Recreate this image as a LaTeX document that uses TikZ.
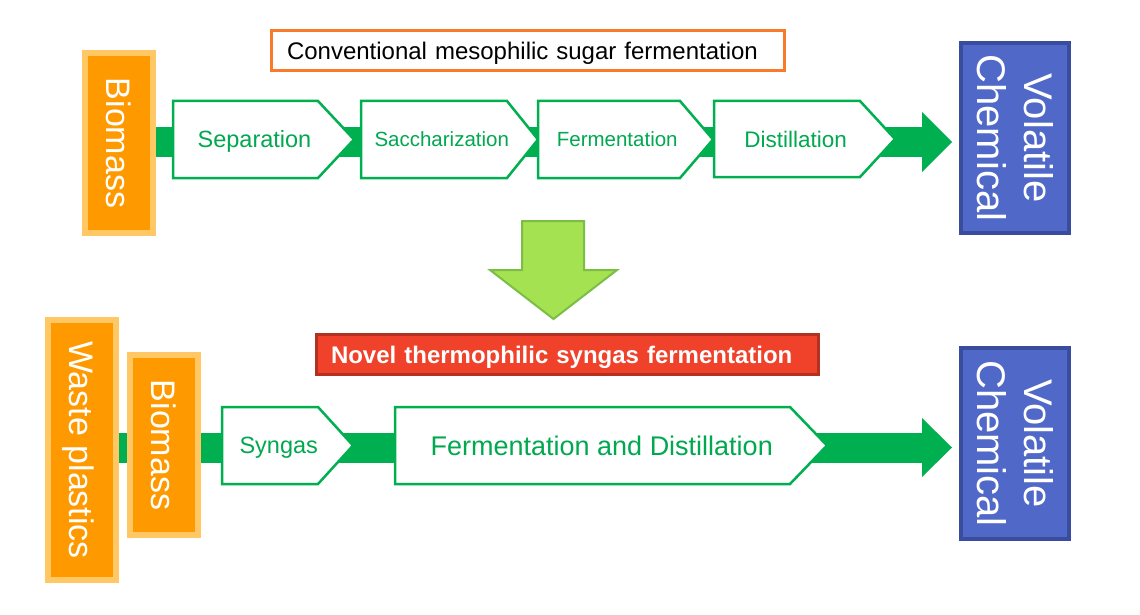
\documentclass[tikz,border=0pt]{standalone}
\usepackage{fontspec}
\setmainfont{Liberation Sans}
\usetikzlibrary{backgrounds}
\definecolor{orfill}{HTML}{FF9900}
\definecolor{orlight}{HTML}{FFC864}
\definecolor{grn}{HTML}{00B050}
\definecolor{grntext}{HTML}{00A850}
\definecolor{bluefill}{HTML}{5068C8}
\definecolor{blueedge}{HTML}{3A4C9E}
\definecolor{redfill}{HTML}{F0412A}
\definecolor{rededge}{HTML}{B5301F}
\definecolor{titleedge}{HTML}{F97B2A}
\definecolor{arrfill}{HTML}{A5E251}
\definecolor{arredge}{HTML}{7BBE45}
\newcommand\pentbox[8]{%
  \filldraw[pent] (#2,#5) -- (#3,#5) -- (#4,{(#5+#6)/2}) -- (#3,#6) -- (#2,#6) -- cycle;
  \node[ptext, font=\fontsize{#7}{#7}\selectfont] (#1) at ({(2*#2+#3+#4)/4},{(#5+#6)/2+0.358*#7}) {#8};}
\begin{document}
\begin{tikzpicture}[x=1pt,y=-1pt,
  orbox/.style={draw=orlight, fill=orfill, line width=6pt, text=white, inner sep=0pt,
    rotate=-90, font=\fontsize{34}{40}\selectfont, text height=24.5pt, text depth=0pt,
    minimum height=68pt},
  bluebox/.style={draw=blueedge, fill=bluefill, line width=4pt, text=white, inner sep=0pt,
    rotate=-90, align=center, font=\fontsize{40}{47}\selectfont,
    minimum height=108pt},
  band/.style={draw=grn, line width=30pt},
  head/.style={fill=grn},
  pent/.style={draw=grn, fill=white, line width=2.5pt, line join=miter},
  ptext/.style={text=grntext, inner sep=0pt, anchor=base},
  titlebox/.style={line width=3pt, align=left, text height=17.2pt, text depth=0pt,
    font=\fontsize{24}{28}\selectfont, minimum height=40pt},
  downarrow/.style={fill=arrfill, draw=arredge, line width=2pt, line join=miter}
]
\useasboundingbox (0,0) rectangle (1140,615);

% ---------- top row ----------
\coordinate (tend) at (923,142);
\node[orbox, minimum width=180pt] (bio1) at (119,143) {Biomass};
\pentbox{sep}{173}{318}{354}{101}{178}{23.5}{Separation}
\pentbox{sac}{361}{507}{538}{101}{178}{20.5}{Saccharization}
\pentbox{fer}{538}{680}{713}{101}{178}{20.5}{Fermentation}
\pentbox{dis}{714}{860}{895}{101}{177}{22.5}{Distillation}
\node[bluebox, minimum width=190pt] (vc1) at (1015,138) {Volatile\\Chemical};
\node[titlebox, draw=titleedge, fill=white, inner xsep=15.5pt, text width=482pt] (t1) at (528,50.5)
  {Conventional mesophilic sugar fermentation};
\begin{scope}[on background layer]
  \fill[white] (0,0) rectangle (1140,615);
  \draw[band] (bio1.center |- tend) -- (tend);
  \fill[head] (922,112) -- (952,142) -- (922,172) -- cycle;
\end{scope}

% ---------- transition arrow ----------
\filldraw[downarrow] (522,221) -- (584,221) -- (584,270) -- (617,270) -- (553.5,319)
  -- (490,270) -- (522,270) -- cycle;

% ---------- bottom row ----------
\coordinate (bend) at (923,448);
\node[orbox, minimum width=260pt] (waste) at (82,450) {Waste plastics};
\node[orbox, minimum width=180pt] (bio2) at (164,445) {Biomass};
\pentbox{syn}{222}{318}{353}{407}{484}{23.5}{Syngas}
\pentbox{fad}{395}{790}{827}{407}{484}{27}{Fermentation and Distillation}
\node[bluebox, minimum width=191pt] (vc2) at (1015,443.5) {Volatile\\Chemical};
\node[titlebox, draw=rededge, fill=redfill, text=white, inner xsep=14.5pt, text width=473pt,
  font=\fontsize{24}{28}\selectfont\bfseries] (t2) at (567.5,354.5)
  {Novel thermophilic syngas fermentation};
\begin{scope}[on background layer]
  \draw[band] (waste.center |- bend) -- (bend);
  \fill[head] (922,418) -- (952,447.5) -- (922,477) -- cycle;
\end{scope}
\end{tikzpicture}
\end{document}
